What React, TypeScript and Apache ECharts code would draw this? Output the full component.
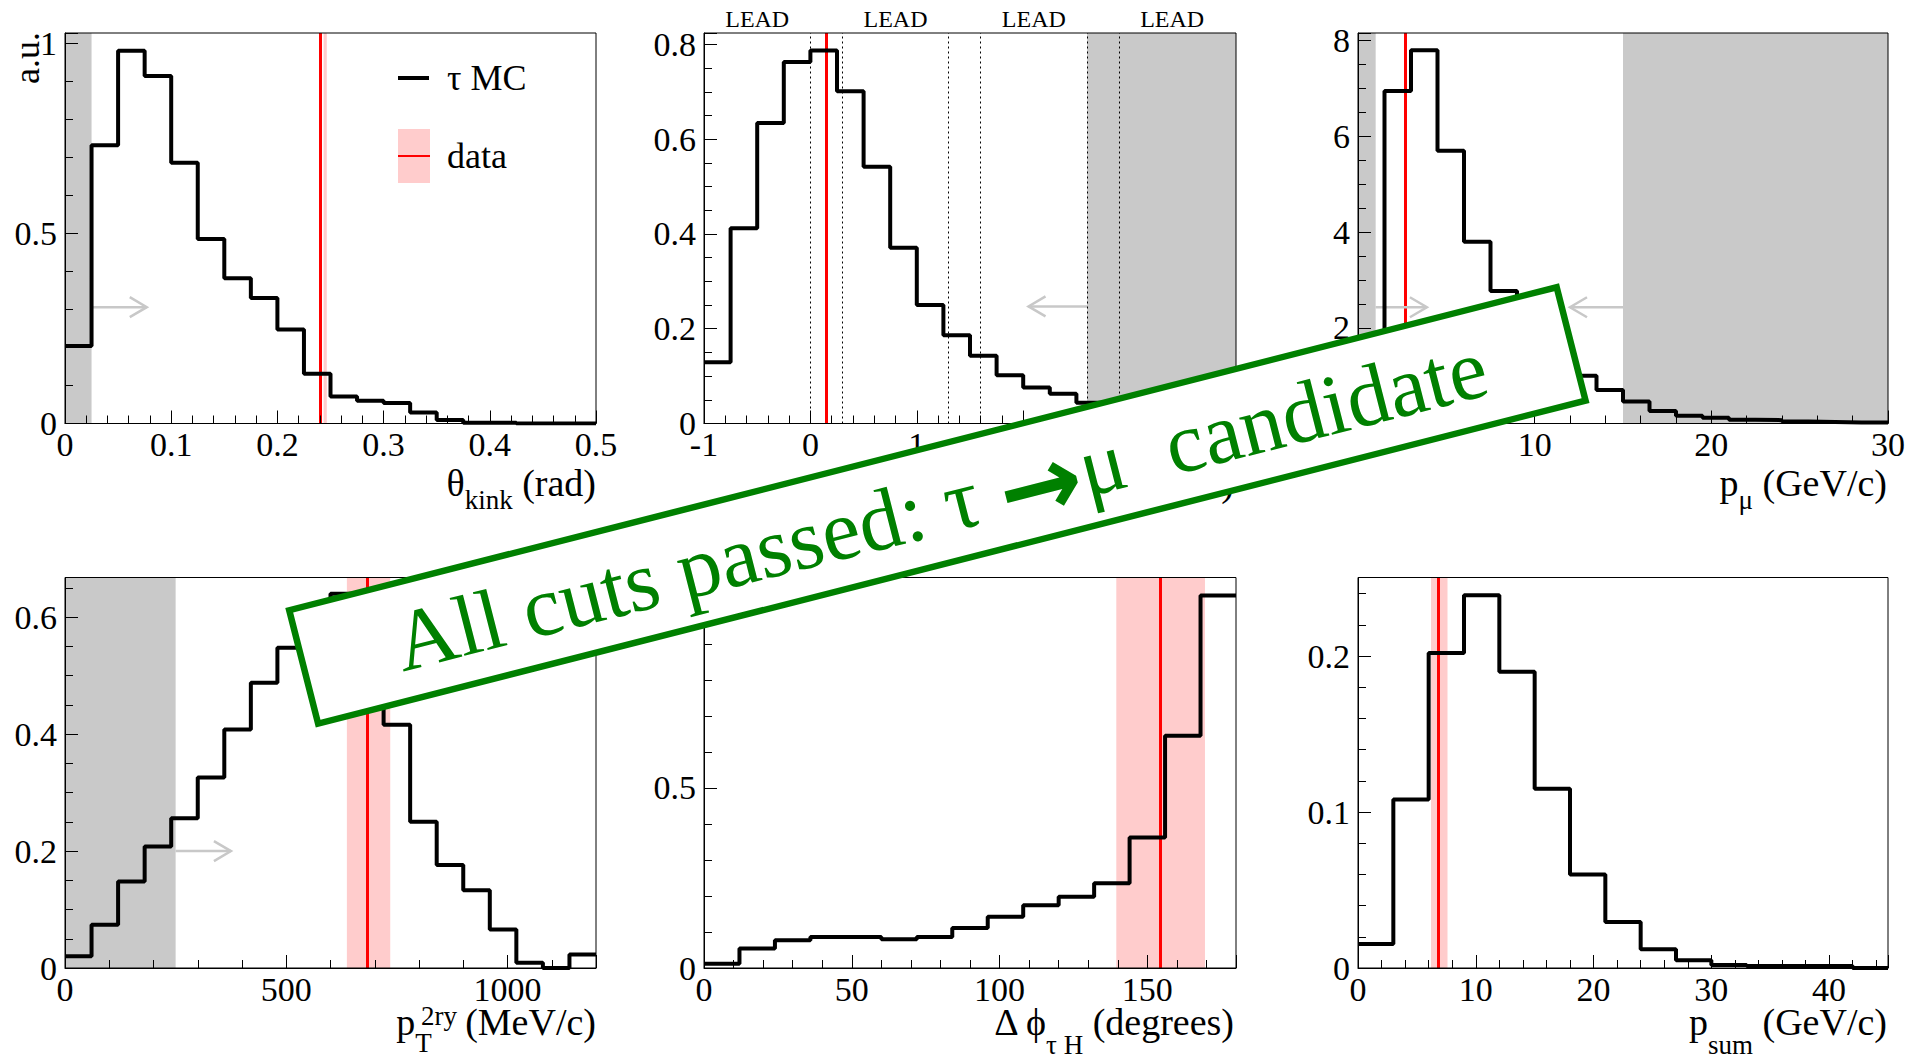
import React, { useEffect, useRef } from "react";
import * as echarts from "echarts";

// ---------------- data ----------------
// theta_kink (rad): 20 bins of 0.025 from 0
const thetaKinkValues = [0.204, 0.732, 0.98, 0.914, 0.686, 0.485, 0.382, 0.33, 0.247, 0.131, 0.071, 0.06, 0.054, 0.029, 0.009, 0.002, 0.002, 0, 0, 0];
// z_dec (mm): 20 bins of 0.25 from -1
const zDecValues = [0.129, 0.412, 0.634, 0.763, 0.787, 0.701, 0.542, 0.371, 0.25, 0.186, 0.143, 0.102, 0.076, 0.063, 0.044, 0.032, 0.024, 0.017, 0.012, 0.008];
// p_mu (GeV/c): 20 bins of 1.5 from 0
const pMuValues = [0, 6.95, 7.8, 5.7, 3.8, 2.77, 2.05, 1.45, 1.0, 0.7, 0.46, 0.26, 0.16, 0.12, 0.08, 0.07, 0.04, 0.03, 0.02, 0.02];
// pT 2ry (MeV/c): 20 bins of 60 from 0
const ptValues = [0.02, 0.074, 0.148, 0.208, 0.256, 0.326, 0.408, 0.488, 0.548, 0.6, 0.64, 0.55, 0.416, 0.25, 0.176, 0.133, 0.066, 0.009, 0, 0.023];
// delta phi (degrees): 15 bins of 12 from 0
const dPhiValues = [0.012, 0.054, 0.077, 0.086, 0.086, 0.08, 0.086, 0.111, 0.142, 0.174, 0.198, 0.235, 0.362, 0.645, 1.034];
// p_sum (GeV/c): 15 bins of 3 from 0
const pSumValues = [0.0154, 0.108, 0.202, 0.239, 0.19, 0.115, 0.06, 0.0295, 0.012, 0.005, 0.002, 0.0013, 0.0013, 0.0013, 0];

// bin layout [start, width]
const thetaKinkBins = [0, 0.025];
const zDecBins = [-1, 0.25];
const pMuBins = [0, 1.5];
const ptBins = [0, 60];
const dPhiBins = [0, 12];
const pSumBins = [0, 3];

// measured values of the candidate event (red line) and their bands
const dataValues = [0.245, 0.15, 2.69, 684, 154.5, 6.83];
const dataBands = [[0.2435, 0.2465], null, null, [637, 735], [139.5, 169.5], [6.2, 7.6]];

// excluded regions (grey)
const thetaKinkCuts = [[0, 0.025]];
const zDecCuts = [[2.6, 4]];
const pMuCuts = [[0, 1], [15, 30]];
const ptCuts = [[0, 250]];

// cut arrows [from, to, height]
const thetaKinkArrows = [[0.025, 0.077, 0.306]];
const zDecArrows = [[2.6, 2.05, 0.247]];
const pMuArrows = [[1, 3.9, 2.43], [15, 12, 2.43]];
const ptArrows = [[250, 375, 0.2]];

// emulsion film boundaries and lead plate labels in z_dec
const zDecFilmLines = [0, 0.3, 1.3, 1.6, 2.6, 2.9];
const zDecLeadCenters = [-0.5, 0.8, 2.1, 3.4];

// axes: [min, max, major step, minor split]
const xAxesSpec = [[0, 0.5, 0.1, 5], [-1, 4, 1, 5], [0, 30, 10, 5], [0, 1200, 500, 5], [0, 180, 50, 5], [0, 45, 10, 5]];
const yAxesSpec = [[0, 1.027, 0.5, 5], [0, 0.824, 0.2, 4], [0, 8.16, 2, 4], [0, 0.668, 0.2, 4], [0, 1.084, 0.5, 5], [0, 0.2504, 0.1, 5]];

// ---------------- layout ----------------
const gridRects = [
  { left: 65, top: 33, width: 531, height: 390.5 },
  { left: 704, top: 33, width: 532, height: 390.5 },
  { left: 1358, top: 33, width: 530, height: 390.5 },
  { left: 65, top: 577.5, width: 531, height: 390.5 },
  { left: 704, top: 577.5, width: 532, height: 390.5 },
  { left: 1358, top: 577.5, width: 530, height: 390.5 },
];

const FONT = '"Liberation Serif", "Times New Roman", serif';
const GREY = "#c9c9c9";
const PINK = "#ffcccc";
const GREEN = "#008000";

function histPoints(bins: number[], values: number[]) {
  const pts = values.map((v, i) => [bins[0] + i * bins[1], v]);
  pts.push([bins[0] + values.length * bins[1], values[values.length - 1]]);
  return pts;
}

function majorFormatter(step: number) {
  return (v: number) => {
    const r = v / step;
    if (Math.abs(r - Math.round(r)) > 1e-6) return "";
    return String(Number(v.toFixed(6)));
  };
}

function buildOption() {
  const panels = [
    { values: thetaKinkValues, bins: thetaKinkBins, cuts: thetaKinkCuts, arrows: thetaKinkArrows, films: [], lead: [] },
    { values: zDecValues, bins: zDecBins, cuts: zDecCuts, arrows: zDecArrows, films: zDecFilmLines, lead: zDecLeadCenters },
    { values: pMuValues, bins: pMuBins, cuts: pMuCuts, arrows: pMuArrows, films: [], lead: [] },
    { values: ptValues, bins: ptBins, cuts: ptCuts, arrows: ptArrows, films: [], lead: [] },
    { values: dPhiValues, bins: dPhiBins, cuts: [], arrows: [], films: [], lead: [] },
    { values: pSumValues, bins: pSumBins, cuts: [], arrows: [], films: [], lead: [] },
  ];

  const grid = gridRects.map((r) => ({
    ...r,
    show: true,
    borderColor: "#000",
    borderWidth: 1,
    backgroundColor: "transparent",
    z: 4,
    outerBoundsMode: "none",
    containLabel: false,
  }));

  const axisCommon = (s: number[], p: number, position: string, margin: number) => ({
    type: "value",
    gridIndex: p,
    position,
    min: s[0],
    max: s[1],
    interval: s[2],
    z: 5,
    axisLine: { show: true, onZero: false, lineStyle: { color: "#000", width: 1 } },
    axisTick: { show: true, inside: true, length: 13, lineStyle: { color: "#000", width: 1 } },
    minorTick: { show: true, splitNumber: s[3], length: 8, lineStyle: { color: "#000", width: 1 } },
    axisLabel: {
      show: true,
      margin,
      fontSize: 34,
      fontFamily: FONT,
      color: "#000",
      formatter: majorFormatter(s[2]),
      showMinLabel: true,
      showMaxLabel: true,
      hideOverlap: false,
    },
    splitLine: { show: false },
    minorSplitLine: { show: false },
  });

  const xAxis = xAxesSpec.map((s, p) => axisCommon(s, p, "bottom", 4));
  const yAxis = yAxesSpec.map((s, p) => axisCommon(s, p, "left", 8));

  const series: any[] = [];
  panels.forEach((P, p) => {
    const areas: any[] = [];
    P.cuts.forEach((c) => areas.push([{ xAxis: c[0], itemStyle: { color: GREY } }, { xAxis: c[1] }]));
    const band = dataBands[p];
    if (band) areas.push([{ xAxis: band[0], itemStyle: { color: PINK } }, { xAxis: band[1] }]);

    const lines: any[] = [];
    P.films.forEach((x) => lines.push({ xAxis: x, lineStyle: { color: "#000", width: 1, type: [2, 3] } }));
    lines.push({ xAxis: dataValues[p], lineStyle: { color: "#ff0000", width: 3, type: "solid" } });

    series.push({
      type: "line",
      name: "hist" + p,
      xAxisIndex: p,
      yAxisIndex: p,
      step: "end",
      data: histPoints(P.bins, P.values),
      symbol: "none",
      showSymbol: false,
      silent: true,
      z: 3,
      lineStyle: { color: "#000", width: 4 },
      emphasis: { disabled: true },
      markArea: { silent: true, z: 1, data: areas, label: { show: false }, emphasis: { disabled: true } },
      markLine: {
        silent: true,
        z: 2,
        symbol: ["none", "none"],
        label: { show: false },
        emphasis: { disabled: true },
        data: lines,
      },
    });

    if (P.arrows.length) {
      series.push({
        type: "custom",
        xAxisIndex: p,
        yAxisIndex: p,
        silent: true,
        clip: false,
        z: 2,
        encode: { x: [0, 1], y: [2] },
        data: P.arrows,
        renderItem: (params: any, api: any) => {
          const a = api.coord([api.value(0), api.value(2)]);
          const b = api.coord([api.value(1), api.value(2)]);
          const dir = b[0] > a[0] ? 1 : -1;
          const st = { stroke: "#c8c8c8", lineWidth: 2.5, fill: "none" };
          return {
            type: "group",
            children: [
              { type: "line", shape: { x1: a[0], y1: a[1], x2: b[0], y2: b[1] }, style: st },
              {
                type: "polyline",
                shape: { points: [[b[0] - dir * 17, b[1] - 10], [b[0], b[1]], [b[0] - dir * 17, b[1] + 10]] },
                style: st,
              },
            ],
          };
        },
      });
    }

    if (P.lead.length) {
      const yTop = yAxesSpec[p][1];
      series.push({
        type: "custom",
        xAxisIndex: p,
        yAxisIndex: p,
        silent: true,
        clip: false,
        z: 6,
        data: P.lead.map((x) => [x, yTop]),
        renderItem: (params: any, api: any) => {
          const c = api.coord([api.value(0), api.value(1)]);
          return {
            type: "text",
            x: c[0],
            y: c[1] - 14,
            style: {
              text: "LEAD",
              font: `24px ${FONT}`,
              fill: "#000",
              align: "center",
              verticalAlign: "middle",
            },
          };
        },
      });
    }
  });

  const titleRich = {
    m: { fontSize: 38, fontFamily: FONT, lineHeight: 44, verticalAlign: "top", fill: "#000" },
    s: { fontSize: 27, fontFamily: FONT, lineHeight: 27, verticalAlign: "top", padding: [22, 0, 0, 0], fill: "#000" },
    s2: { fontSize: 27, fontFamily: FONT, lineHeight: 26, verticalAlign: "top", padding: [28, 0, 0, 0], fill: "#000" },
    sT: { fontSize: 27, fontFamily: FONT, lineHeight: 26, verticalAlign: "top", padding: [26, 24, 0, 0], fill: "#000" },
  };
  const title = (text: string, x: number, y: number) => ({
    type: "text",
    x,
    y,
    z: 20,
    silent: true,
    style: { text, rich: titleRich, fill: "#000", align: "right", verticalAlign: "top", textAlign: "right", textVerticalAlign: "top" },
  });

  const graphic: any[] = [
    title("{m|θ}{s|kink}{m| (rad)}", 596, 464),
    title("{m|z}{s|dec}{m| (mm)}", 1234, 464),
    title("{m|p}{s|μ}{m| (GeV/c)}", 1887, 464),
    title("{m|p}{sT|T}{m| (MeV/c)}", 596, 1003),
    {
      type: "text",
      x: 421,
      y: 1016,
      z: 20,
      silent: true,
      style: { text: "2ry", font: `27px ${FONT}`, fill: "#000", align: "left", verticalAlign: "middle" },
    },
    title("{m|Δ ϕ}{s2|τ H}{m| (degrees)}", 1234, 1003),
    title("{m|p}{s2|sum}{m| (GeV/c)}", 1887, 1003),
    {
      type: "text",
      x: 27,
      y: 32,
      rotation: Math.PI / 2,
      z: 20,
      silent: true,
      style: { text: "a.u.", font: `36px ${FONT}`, fill: "#000", align: "right", verticalAlign: "middle" },
    },
    // legend
    { type: "line", z: 20, silent: true, shape: { x1: 398, y1: 78, x2: 429, y2: 78 }, style: { stroke: "#000", lineWidth: 4 } },
    { type: "rect", z: 20, silent: true, shape: { x: 398, y: 129, width: 32, height: 54 }, style: { fill: PINK } },
    { type: "line", z: 21, silent: true, shape: { x1: 398, y1: 156, x2: 430, y2: 156 }, style: { stroke: "#ff0000", lineWidth: 2 } },
    { type: "text", z: 20, silent: true, x: 447, y: 78, style: { text: "τ MC", font: `36px ${FONT}`, fill: "#000", align: "left", verticalAlign: "middle" } },
    { type: "text", z: 20, silent: true, x: 447, y: 156, style: { text: "data", font: `36px ${FONT}`, fill: "#000", align: "left", verticalAlign: "middle" } },
    // banner
    {
      type: "group",
      x: 937.4,
      y: 505.4,
      rotation: (14.3 * Math.PI) / 180,
      z: 100,
      silent: true,
      children: [
        {
          type: "rect",
          z: 100,
          shape: { x: -654, y: -58.5, width: 1308, height: 117 },
          style: { fill: "#fff", stroke: GREEN, lineWidth: 6.5 },
        },
        {
          type: "text",
          z: 101,
          x: 3,
          y: 0,
          style: {
            text: "{t|All cuts passed: τ }{a|→}{t|μ  candidate}",
            align: "center",
            verticalAlign: "middle",
            fill: GREEN,
            rich: {
              t: { fontSize: 86, fontFamily: FONT, fill: GREEN, lineHeight: 96, verticalAlign: "middle" },
              a: { fontSize: 100, fontFamily: '"DejaVu Sans"', fontWeight: "bold", fill: GREEN, lineHeight: 96, padding: [12, 0, 0, 0], verticalAlign: "middle" },
            },
          },
        },
      ],
    },
  ];

  return {
    animation: false,
    backgroundColor: "#fff",
    grid,
    xAxis,
    yAxis,
    series,
    graphic,
  };
}

export default function App() {
  const ref = useRef<HTMLDivElement>(null);
  useEffect(() => {
    if (!ref.current) return;
    const chart = echarts.init(ref.current, null, { renderer: "svg" });
    chart.setOption(buildOption() as any);
    return () => chart.dispose();
  }, []);
  return (
    <div
      ref={ref}
      style={{ position: "fixed", left: 0, top: 0, width: 1915, height: 1060, background: "#fff" }}
    />
  );
}
